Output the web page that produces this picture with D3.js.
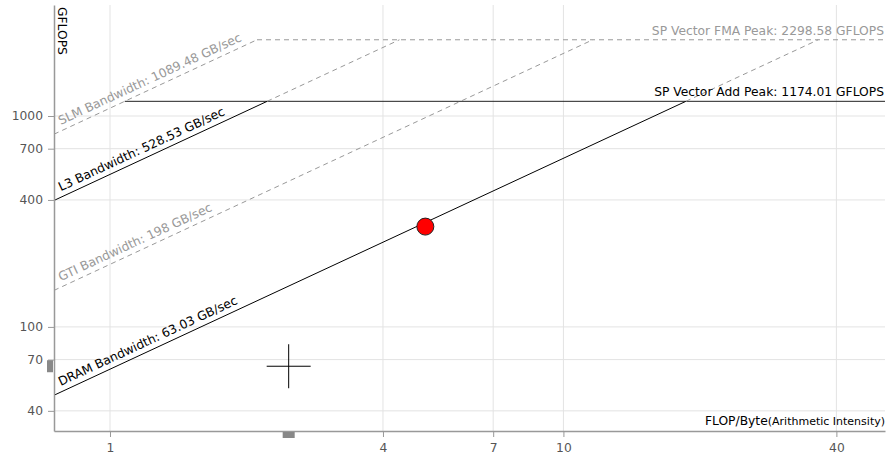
<!DOCTYPE html>
<html>
<head>
<meta charset="utf-8">
<script src="https://cdn.jsdelivr.net/npm/d3@7"></script>
<style>
  html, body { margin: 0; padding: 0; background: #fff; }
  svg { display: block; font-family: "DejaVu Sans", Verdana, sans-serif; }
  .axis path { stroke: #999; stroke-width: 1.5; }
  .axis line { stroke: #999; }
  .grid line { stroke: #e3e3e3; }
</style>
</head>
<body>
<svg id="chart" width="886" height="456"></svg>
<script>
// memory roofs (GB/sec) and compute roofs (GFLOPS)
const bandwidthNames = ['SLM', 'L3', 'GTI', 'DRAM'];
const bandwidthValues = [1089.48, 528.53, 198, 63.03];
const peakNames = ['SP Vector FMA Peak', 'SP Vector Add Peak'];
const peakValues = [2298.58, 1174.01];

const xTicks = [1, 4, 7, 10, 40];
const yTicks = [40, 70, 100, 400, 700, 1000];

// loop point: arithmetic intensity, GFLOPS
const pointAI = [4.96];
const pointGflops = [299];

// crosshair cursor
const crossAI = [2.478];
const crossGflops = [65.1];

const activeRoofs = new Set(['L3', 'DRAM', 'SP Vector Add Peak']);

const width = 886, height = 456;
const margin = {top: 5, right: 1, bottom: 25, left: 54};
const fontSize = 12.3;

const svg = d3.select('#chart');

const x = d3.scaleLog()
    .domain([0.7525, 51.2])
    .range([margin.left, width - margin.right]);

const y = d3.scaleLog()
    .domain([32.1, 3360])
    .range([height - margin.bottom, margin.top]);

const x0 = x.domain()[0], x1 = x.domain()[1];
const yBottom = y.range()[0], yTop = y.range()[1];

svg.append('defs').append('clipPath')
    .attr('id', 'plot-clip')
  .append('rect')
    .attr('x', margin.left)
    .attr('y', margin.top)
    .attr('width', width - margin.left - margin.right)
    .attr('height', yBottom - yTop);

// grid
const grid = svg.append('g').attr('class', 'grid');

grid.selectAll('line.v')
  .data(xTicks)
  .join('line')
    .attr('class', 'v')
    .attr('x1', d => x(d))
    .attr('x2', d => x(d))
    .attr('y1', yTop)
    .attr('y2', yBottom);

grid.selectAll('line.h')
  .data(yTicks)
  .join('line')
    .attr('class', 'h')
    .attr('x1', margin.left)
    .attr('x2', width - margin.right)
    .attr('y1', d => y(d))
    .attr('y2', d => y(d));

const roofs = svg.append('g').attr('clip-path', 'url(#plot-clip)');

const maxBw = d3.max(bandwidthValues);
const fmaPeak = peakValues[0];
const addPeak = peakValues[1];

const solid = {stroke: '#000', dash: null};
const dashed = {stroke: '#999', dash: '5,4'};

function drawSegment(p, q, style) {
  roofs.append('line')
      .attr('x1', x(p[0]))
      .attr('y1', y(p[1]))
      .attr('x2', x(q[0]))
      .attr('y2', y(q[1]))
      .attr('stroke', style.stroke)
      .attr('stroke-width', 1)
      .attr('stroke-dasharray', style.dash);
}

// compute roofs start where the highest bandwidth roof meets them
peakNames.forEach((name, i) => {
  const v = peakValues[i];
  const style = activeRoofs.has(name) ? {stroke: '#222', dash: null} : dashed;
  drawSegment([v / maxBw, v], [x1, v], style);
});

// memory roofs
bandwidthNames.forEach((name, i) => {
  const bw = bandwidthValues[i];
  if (activeRoofs.has(name)) {
    drawSegment([x0, bw * x0], [addPeak / bw, addPeak], solid);
    drawSegment([addPeak / bw, addPeak], [fmaPeak / bw, fmaPeak], dashed);
  } else {
    drawSegment([x0, bw * x0], [fmaPeak / bw, fmaPeak], dashed);
  }
});

// label angle follows the roof slope
const angle = Math.atan2(y(100) - y(10), x(10) - x(1)) * 180 / Math.PI;

const labels = svg.append('g');

bandwidthNames.forEach((name, i) => {
  const bw = bandwidthValues[i];
  const ai = x.invert(63);
  labels.append('text')
      .attr('transform', `translate(${x(ai)},${y(bw * ai)}) rotate(${angle})`)
      .attr('dy', -5.5)
      .attr('font-size', fontSize)
      .attr('fill', activeRoofs.has(name) ? '#000' : '#999')
      .text(`${name} Bandwidth: ${bw} GB/sec`);
});

peakNames.forEach((name, i) => {
  labels.append('text')
      .attr('x', width - 2)
      .attr('y', y(peakValues[i]) - 5)
      .attr('text-anchor', 'end')
      .attr('font-size', fontSize)
      .attr('fill', activeRoofs.has(name) ? '#000' : '#999')
      .text(`${name}: ${peakValues[i]} GFLOPS`);
});

// axes
function styleAxis(g) {
  g.attr('font-family', null).attr('font-size', null);
  g.selectAll('text')
      .attr('fill', '#555')
      .style('font-size', fontSize + 'px');
}

svg.append('g')
    .attr('class', 'axis')
    .attr('transform', `translate(0,${yBottom})`)
    .call(d3.axisBottom(x)
        .tickValues(xTicks)
        .tickFormat(d3.format('d'))
        .tickSizeOuter(0)
        .tickPadding(6))
    .call(styleAxis);

svg.append('g')
    .attr('class', 'axis')
    .attr('transform', `translate(${margin.left},0)`)
    .call(d3.axisLeft(y)
        .tickValues(yTicks)
        .tickFormat(d3.format('d'))
        .tickSizeOuter(0)
        .tickPadding(5))
    .call(styleAxis);

// axis titles
svg.append('text')
    .attr('transform', `translate(58,7) rotate(90)`)
    .attr('font-size', fontSize)
    .attr('fill', '#000')
    .text('GFLOPS');

svg.append('text')
    .attr('x', width - 1)
    .attr('y', yBottom - 6)
    .attr('text-anchor', 'end')
    .attr('fill', '#000')
    .call(t => t.append('tspan').attr('font-size', fontSize).text('FLOP/Byte'))
    .call(t => t.append('tspan').attr('font-size', 11).text('(Arithmetic Intensity)'));

// loop point
svg.append('g')
  .selectAll('circle')
  .data(pointAI)
  .join('circle')
    .attr('cx', d => x(d))
    .attr('cy', (d, i) => y(pointGflops[i]))
    .attr('r', 8.5)
    .attr('fill', '#ff0000')
    .attr('stroke', '#222')
    .attr('stroke-width', 1);

// crosshair and its axis markers
const cx = x(crossAI[0]), cy = y(crossGflops[0]);
const cross = svg.append('g').attr('stroke', '#000').attr('stroke-width', 1);
cross.append('line').attr('x1', cx - 22).attr('x2', cx + 22).attr('y1', cy).attr('y2', cy);
cross.append('line').attr('x1', cx).attr('x2', cx).attr('y1', cy - 22).attr('y2', cy + 22);

svg.append('rect')
    .attr('x', margin.left - 7)
    .attr('y', cy - 6)
    .attr('width', 6)
    .attr('height', 12)
    .attr('fill', '#888');

svg.append('rect')
    .attr('x', cx - 6)
    .attr('y', yBottom + 1)
    .attr('width', 12)
    .attr('height', 6)
    .attr('fill', '#888');
</script>
</body>
</html>
